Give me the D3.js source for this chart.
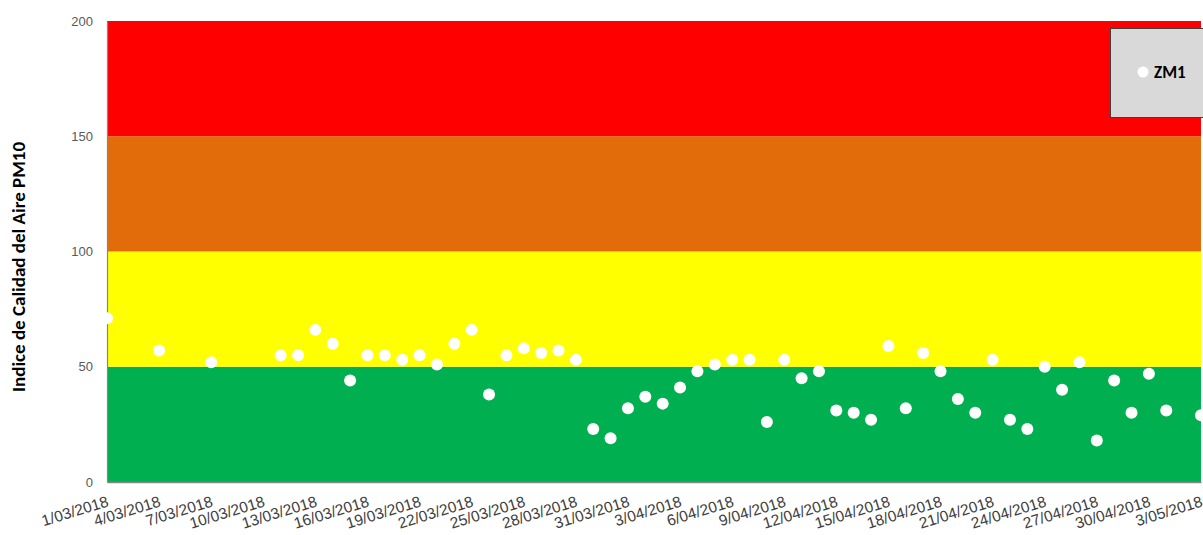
<!DOCTYPE html>
<html><head><meta charset="utf-8">
<script src="https://cdn.jsdelivr.net/npm/d3@7"></script>
<style>
html,body{margin:0;padding:0;background:#fff;}
svg{display:block;font-family:Calibri,Carlito,"Open Sans","Liberation Sans",sans-serif;}
</style></head>
<body><svg id="c" width="1203" height="535"></svg>
<script>
// ---- data ----
const dates = ["2018-03-01","2018-03-04","2018-03-07","2018-03-11","2018-03-12","2018-03-13","2018-03-14","2018-03-15","2018-03-16","2018-03-17","2018-03-18","2018-03-19","2018-03-20","2018-03-21","2018-03-22","2018-03-23","2018-03-24","2018-03-25","2018-03-26","2018-03-27","2018-03-28","2018-03-29","2018-03-30","2018-03-31","2018-04-01","2018-04-02","2018-04-03","2018-04-04","2018-04-05","2018-04-06","2018-04-07","2018-04-08","2018-04-09","2018-04-10","2018-04-11","2018-04-12","2018-04-13","2018-04-14","2018-04-15","2018-04-16","2018-04-17","2018-04-18","2018-04-19","2018-04-20","2018-04-21","2018-04-22","2018-04-23","2018-04-24","2018-04-25","2018-04-26","2018-04-27","2018-04-28","2018-04-29","2018-04-30","2018-05-01","2018-05-03"];
const zm1 = [71,57,52,55,55,66,60,44,55,55,53,55,51,60,66,38,55,58,56,57,53,23,19,32,37,34,41,48,51,53,53,26,53,45,48,31,30,27,59,32,56,48,36,30,53,27,23,50,40,52,18,44,30,47,31,29];
const yTicks = [0,50,100,150,200];
const xTickLabels = ["1/03/2018","4/03/2018","7/03/2018","10/03/2018","13/03/2018","16/03/2018","19/03/2018","22/03/2018","25/03/2018","28/03/2018","31/03/2018","3/04/2018","6/04/2018","9/04/2018","12/04/2018","15/04/2018","18/04/2018","21/04/2018","24/04/2018","27/04/2018","30/04/2018","3/05/2018"];
const bandLimits = [0,50,100,150,200];
const bandColors = ["#00b050","#ffff00","#e36c0a","#ff0000"];
const seriesName = "ZM1";
const yTitle = "Indice de Calidad del Aire PM10";

// ---- chart ----
const svg = d3.select("#c");
const m = {l:107, r:1201, t:21, b:482};
const parse = d3.timeParse("%Y-%m-%d");
const x = d3.scaleTime().domain([parse("2018-03-01"), parse("2018-05-03")]).range([m.l, m.r]);
const y = d3.scaleLinear().domain([0,200]).range([m.b, m.t]);

// bands
svg.selectAll("rect.band").data(bandColors).enter().append("rect")
  .attr("x", m.l).attr("width", m.r - m.l)
  .attr("y", (d,i)=>y(bandLimits[i+1]))
  .attr("height", (d,i)=>y(bandLimits[i]) - y(bandLimits[i+1]))
  .attr("fill", d=>d);

// y axis
const yAxis = d3.axisLeft(y).tickValues(yTicks).tickSize(0).tickPadding(14);
const gy = svg.append("g").attr("transform",`translate(${m.l},0)`).call(yAxis);
gy.select(".domain").attr("stroke","#868686").attr("stroke-width",1.2);
gy.selectAll("text").attr("fill","#595959").style("font-size","13px");

// x axis
const tickDates = xTickLabels.map(s=>{const p=s.split("/");return new Date(+p[2], +p[1]-1, +p[0]);});
const xAxis = d3.axisBottom(x).tickValues(tickDates).tickSize(0)
  .tickFormat((d,i)=>xTickLabels[i]);
const gx = svg.append("g").attr("transform",`translate(0,${m.b})`).call(xAxis);
gx.select(".domain").attr("stroke","#868686").attr("stroke-width",1.5);
gx.selectAll("text").attr("fill","#404040").style("font-size","15.5px")
  .attr("text-anchor","end").attr("dy",null).attr("y",0)
  .attr("transform","translate(2,24) rotate(-17)");

// y title
svg.append("text").attr("transform",`translate(25,267) rotate(-90)`)
  .attr("text-anchor","middle").attr("font-weight","bold").style("font-size","19px")
  .attr("fill","#000").text(yTitle);

// points
svg.append("g").selectAll("circle").data(dates).enter().append("circle")
  .attr("cx", d=>x(parse(d))).attr("cy",(d,i)=>y(zm1[i])).attr("r",6)
  .attr("fill","#ffffff");

// legend
const lg = svg.append("g");
lg.append("rect").attr("x",1110.5).attr("y",28.5).attr("width",100).attr("height",89)
  .attr("fill","#d9d9d9").attr("stroke","#404040").attr("stroke-width",1);
lg.append("circle").attr("cx",1143).attr("cy",72).attr("r",5.5).attr("fill","#fff");
lg.append("text").attr("x",1154).attr("y",78).attr("font-weight","bold")
  .style("font-size","17px").attr("fill","#000").text(seriesName);
</script></body></html>
